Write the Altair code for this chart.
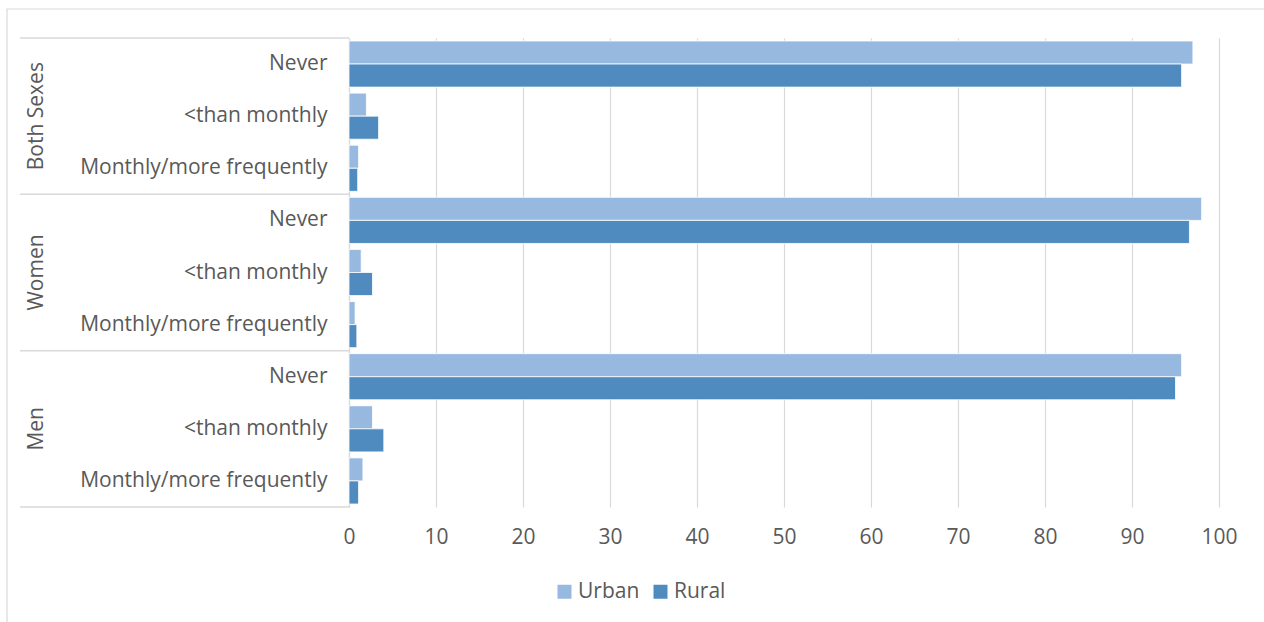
import altair as alt
import pandas as pd

# Survey responses by sex and area of residence (percent)
groups = ["Both Sexes", "Women", "Men"]
categories = ["Never", "<than monthly", "Monthly/more frequently"]
series = ["Urban", "Rural"]

urban = [
    [97.0, 2.0, 1.1],   # Both Sexes
    [98.0, 1.4, 0.7],   # Women
    [95.7, 2.7, 1.6],   # Men
]
rural = [
    [95.7, 3.4, 1.0],
    [96.6, 2.7, 0.9],
    [95.0, 4.0, 1.1],
]

FONT = "Open Sans"
FS = 21
TEXT = "#595959"
GRID = "#D9D9D9"
COLORS = ["#97B9E0", "#4F8BBF"]

W, H = 870, 469
LEFT, TOP = 349, 38

rows = []
for gi, g in enumerate(groups):
    for ci, c in enumerate(categories):
        key = f"{g}|{c}"
        rows.append({"key": key, "series": "Urban", "value": urban[gi][ci]})
        rows.append({"key": key, "series": "Rural", "value": rural[gi][ci]})
df = pd.DataFrame(rows)
key_order = [f"{g}|{c}" for g in groups for c in categories]

y_scale = alt.Scale(domain=key_order, paddingInner=0, paddingOuter=0)

bars = alt.Chart(df).mark_bar(stroke="white", strokeWidth=0.8).encode(
    x=alt.X(
        "value:Q",
        scale=alt.Scale(domain=[0, 100]),
        axis=alt.Axis(
            values=list(range(0, 101, 10)),
            title=None,
            grid=True,
            gridColor=GRID,
            gridWidth=1.2,
            domain=False,
            ticks=False,
            labelFlush=False,
            labelFont=FONT,
            labelFontSize=FS,
            labelColor=TEXT,
            labelPadding=19,
        ),
    ),
    y=alt.Y(
        "key:N",
        scale=y_scale,
        sort=key_order,
        axis=alt.Axis(
            title=None,
            ticks=False,
            domain=True,
            domainColor=GRID,
            domainWidth=1.2,
            grid=False,
            labelExpr="split(datum.label, '|')[1]",
            labelLimit=400,
            labelFont=FONT,
            labelFontSize=FS,
            labelColor=TEXT,
            labelPadding=22,
        ),
    ),
    yOffset=alt.YOffset(
        "series:N",
        sort=series,
        scale=alt.Scale(paddingInner=0, paddingOuter=0.13),
    ),
    color=alt.Color(
        "series:N",
        sort=series,
        scale=alt.Scale(domain=series, range=COLORS),
        legend=alt.Legend(
            title=None,
            orient="none",
            direction="horizontal",
            legendX=205,
            legendY=543,
            symbolType="square",
            symbolSize=196,
            symbolStrokeWidth=0,
            labelFont=FONT,
            labelFontSize=FS,
            labelColor=TEXT,
            labelOffset=3,
            columnPadding=10,
            padding=0,
        ),
    ),
)

# Group labels, rotated, centred on each group's middle row
grp_df = pd.DataFrame({"group": groups, "key": [f"{g}|{categories[1]}" for g in groups]})
group_labels = alt.Chart(grp_df).mark_text(
    angle=270, font=FONT, fontSize=FS, color=TEXT, align="center", baseline="middle"
).encode(
    x=alt.value(-312),
    y=alt.Y("key:N", scale=y_scale, sort=key_order),
    text="group:N",
)

# Separator lines across the label area
top_df = pd.DataFrame({"key": [f"{g}|{categories[0]}" for g in groups]})
sep_top = alt.Chart(top_df).mark_rule(color=GRID, strokeWidth=1.5).encode(
    x=alt.value(-329),
    x2=alt.value(0),
    y=alt.Y("key:N", scale=y_scale, sort=key_order, bandPosition=0),
)
bot_df = pd.DataFrame({"key": [f"{groups[-1]}|{categories[-1]}"]})
sep_bot = alt.Chart(bot_df).mark_rule(color=GRID, strokeWidth=1.5).encode(
    x=alt.value(-329),
    x2=alt.value(0),
    y=alt.Y("key:N", scale=y_scale, sort=key_order, bandPosition=1),
)

# Outer chart frame
frame = alt.Chart(pd.DataFrame({"f": [0]})).mark_rect(
    fill="transparent", stroke=GRID, strokeWidth=1.2
).encode(
    x=alt.value(7 - LEFT),
    x2=alt.value(1270 - LEFT),
    y=alt.value(9 - TOP),
    y2=alt.value(630 - TOP),
)

chart = alt.layer(frame, sep_top, sep_bot, bars, group_labels).resolve_scale(
    y="shared"
).properties(
    width=W,
    height=H,
    padding={"left": LEFT, "top": TOP, "right": 1264 - LEFT - W, "bottom": 622 - TOP - H},
    autosize=alt.AutoSizeParams(type="none"),
    background="white",
).configure_view(stroke=None)

chart.save("out.html", embed_options={"renderer": "svg", "actions": False})
